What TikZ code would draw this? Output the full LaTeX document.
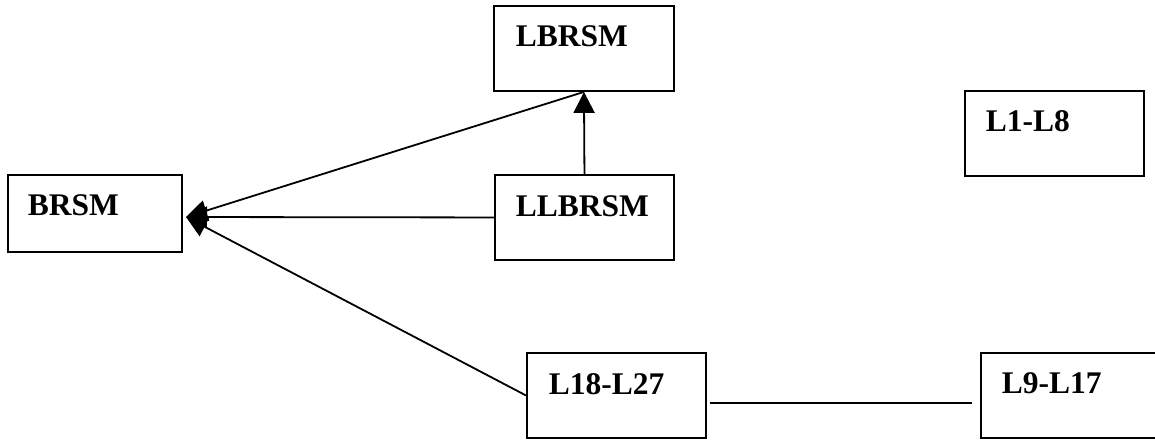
\documentclass[tikz,border=0pt]{standalone}
\usepackage{fontspec}
\setmainfont{Liberation Serif}
\usetikzlibrary{arrows.meta,calc}
\begin{document}
\begin{tikzpicture}[x=1pt,y=-1pt,
  box/.style={draw,line width=1.9pt,anchor=north west,inner ysep=0pt,align=left,
    font=\fontsize{31.5}{37}\selectfont\bfseries},
  arr/.style={line width=1.8pt,-{Triangle[length=21pt,width=21pt]}},
  conn/.style={line width=1.8pt}]
\useasboundingbox (0,0) rectangle (1155,440);
\clip (0,0) rectangle (1155,440);
\fill[white] (0,0) rectangle (1155,440);
\node[box,inner xsep=20pt,text width=134pt,text height=41pt,text depth=36pt] (brsm) at (7,174) {BRSM};
\node[box,inner xsep=22pt,text width=136pt,text height=41pt,text depth=44pt] (lbrsm) at (493,5) {LBRSM};
\node[box,inner xsep=21pt,text width=137pt,text height=42pt,text depth=43pt] (llbrsm) at (494,174) {LLBRSM};
\node[box,inner xsep=22pt,text width=135pt,text height=42pt,text depth=43pt] (l18) at (526,352) {L18-L27};
\node[box,inner xsep=21pt,text width=140pt,text height=41pt,text depth=44pt] (l9) at (980,352) {L9-L17};
\node[box,inner xsep=21pt,text width=137pt,text height=41pt,text depth=44pt] (l1) at (964,90) {L1-L8};
\coordinate (tip) at (186,217);
\draw[arr] (lbrsm.south) -- (tip);
\draw[arr] (llbrsm.west) -- (tip);
\draw[arr] (l18.west) -- (tip);
\draw[arr] (llbrsm.north) -- (lbrsm.south);
\draw[conn] ($(l18.east)+(3,7.5)$) -- ($(l9.west)+(-8,7.5)$);
\end{tikzpicture}
\end{document}
